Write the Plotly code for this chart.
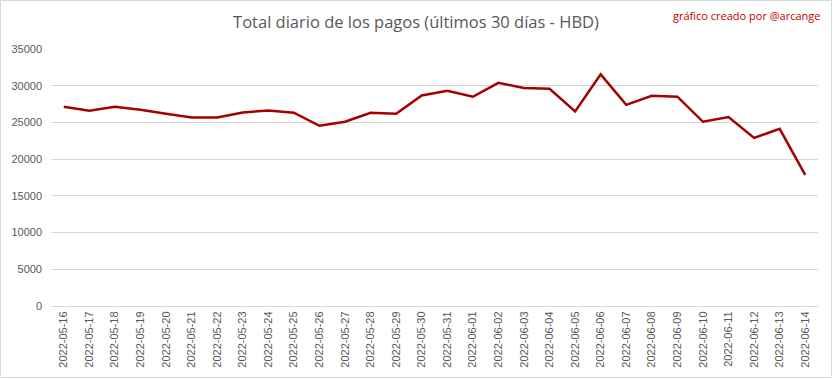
import plotly.graph_objects as go

dates = ["2022-05-16","2022-05-17","2022-05-18","2022-05-19","2022-05-20","2022-05-21",
         "2022-05-22","2022-05-23","2022-05-24","2022-05-25","2022-05-26","2022-05-27",
         "2022-05-28","2022-05-29","2022-05-30","2022-05-31","2022-06-01","2022-06-02",
         "2022-06-03","2022-06-04","2022-06-05","2022-06-06","2022-06-07","2022-06-08",
         "2022-06-09","2022-06-10","2022-06-11","2022-06-12","2022-06-13","2022-06-14"]
pagos = [27130, 26590, 27130, 26720, 26180, 25680, 25680, 26360, 26630, 26320,
         24540, 25090, 26320, 26180, 28680, 29320, 28500, 30400, 29680, 29590,
         26500, 31540, 27400, 28630, 28500, 25090, 25720, 22900, 24130, 17860]
y_ticks = [0, 5000, 10000, 15000, 20000, 25000, 30000, 35000]

L, R, T, B = 51, 15, 49, 73
W, H = 833, 379
pw, ph = W - L - R, H - T - B

def px(x):
    return (x - L) / pw

def py(y):
    return (H - B - y) / ph

fig = go.Figure()
fig.add_trace(go.Scatter(
    x=list(range(len(dates))), y=pagos, mode="lines",
    line=dict(color="#a50000", width=2.5), hoverinfo="skip"))

fig.update_layout(
    width=W, height=H,
    margin=dict(l=L, r=R, t=T, b=B, autoexpand=False),
    paper_bgcolor="white", plot_bgcolor="white",
    showlegend=False,
    font=dict(family="Liberation Sans", color="#595959", size=11),
    title=dict(text="Total diario de los pagos (últimos 30 días - HBD)",
               x=(416) / W, xanchor="center", y=1 - 22 / H, yanchor="middle",
               font=dict(family="Open Sans, Liberation Sans", size=16.5, color="#595959")),
    xaxis=dict(range=[-0.5, len(dates) - 0.5], tickmode="array",
               tickvals=list(range(len(dates))), ticktext=dates, tickangle=-90,
               showgrid=False, zeroline=False, showline=True, linecolor="#d9d9d9",
               ticks="", tickfont=dict(size=11, family="Liberation Sans")),
    yaxis=dict(range=[0, 35000], tickmode="array", tickvals=y_ticks,
               ticktext=[str(v) for v in y_ticks],
               showgrid=True, gridcolor="#d9d9d9", gridwidth=1, zeroline=False,
               showline=False, ticks="", ticklabelstandoff=8,
               tickfont=dict(size=11, family="Liberation Sans")),
    shapes=[dict(type="rect", xref="paper", yref="paper",
                 x0=px(0.5), x1=px(W - 1.5), y0=py(H - 1.5), y1=py(0.5),
                 line=dict(color="#d9d9d9", width=1), fillcolor="rgba(0,0,0,0)", layer="below")],
    annotations=[dict(text="gráfico creado por @arcange", xref="paper", yref="paper",
                      x=px(823), y=py(15), xanchor="right", yanchor="middle",
                      showarrow=False,
                      font=dict(family="Open Sans, Liberation Sans", size=11, color="#c00000"))],
)

fig.write_html("out.html", config={"displayModeBar": False},
               post_script="document.body.style.margin='0';")
